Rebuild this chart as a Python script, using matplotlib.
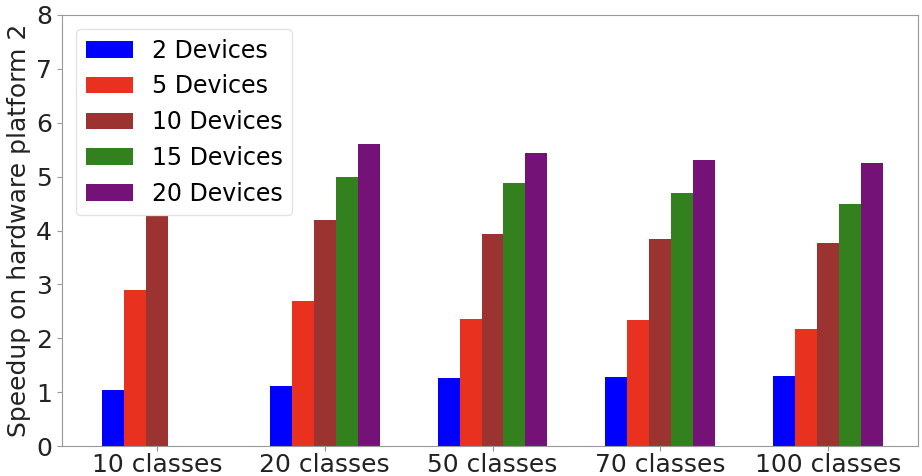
import numpy as np
import matplotlib
matplotlib.use("Agg")
import matplotlib.pyplot as plt

categories = ["10 classes", "20 classes", "50 classes", "70 classes", "100 classes"]
series_names = ["2 Devices", "5 Devices", "10 Devices", "15 Devices", "20 Devices"]
dev2 = [1.04, 1.11, 1.26, 1.29, 1.30]
dev5 = [2.89, 2.70, 2.36, 2.34, 2.18]
dev10 = [4.27, 4.20, 3.93, 3.85, 3.76]
dev15 = [np.nan, 5.00, 4.89, 4.70, 4.50]
dev20 = [np.nan, 5.60, 5.44, 5.31, 5.26]
series = [dev2, dev5, dev10, dev15, dev20]
colors = ["#0000ff", "#e8311f", "#9b3330", "#33801f", "#741278"]

fig = plt.figure(figsize=(9.22, 4.76), dpi=100)
ax = fig.add_axes([0.0672, 0.063, 0.9285, 0.9055])

x = np.arange(len(categories))
w = 0.131
for i, (vals, name, c) in enumerate(zip(series, series_names, colors)):
    ax.bar(x + (i - 2) * w, vals, w, label=name, color=c)

ax.set_ylim(0, 8)
ax.set_xlim(-0.567, 4.537)
ax.set_xticks(x)
ax.set_xticklabels(categories, fontsize=18, color="#222222")
ax.tick_params(axis="x", pad=1.5)
ax.tick_params(axis="y", labelsize=18, labelcolor="#222222")
ax.set_ylabel("Speedup on hardware platform 2", fontsize=18, color="#222222")
for s in ax.spines.values():
    s.set_color("#999999")
ax.tick_params(color="#999999")
leg = ax.legend(loc="upper left", fontsize=17, borderaxespad=0.6)
leg.get_frame().set_edgecolor("#dddddd")

fig.savefig("out.png", dpi=100)
